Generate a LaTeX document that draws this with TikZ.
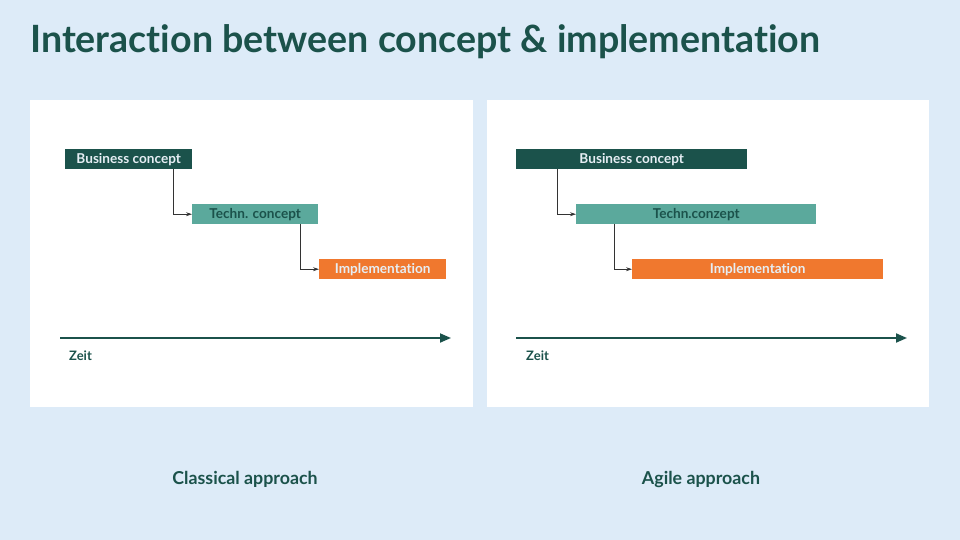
\documentclass[tikz,border=0pt]{standalone}
\usepackage{fontspec}
\setmainfont[Ligatures=NoCommon]{Lato}
\usetikzlibrary{arrows.meta}
\definecolor{bgblue}{HTML}{DDEBF8}
\definecolor{dkgreen}{HTML}{1B524B}
\definecolor{teal2}{HTML}{5BA99C}
\definecolor{orng}{HTML}{F0782E}
\definecolor{txtlight}{HTML}{E6EEF4}
\tikzset{
  panel/.style={fill=white, draw=none},
  bar/.style={anchor=north west, inner sep=0pt, minimum height=20pt, text height=10pt, text depth=1pt, font=\fontsize{13.6}{13.6}\selectfont\bfseries},
  bizbar/.style={bar, fill=dkgreen, text=txtlight},
  techbar/.style={bar, fill=teal2, text=dkgreen},
  implbar/.style={bar, fill=orng, text=txtlight},
  conn/.style={draw=black!80, line width=0.8pt, -{Stealth[length=6pt,width=4pt]}},
  axis/.style={draw=dkgreen, line width=1.8pt, -{Triangle[length=11pt,width=9pt]}},
  zeit/.style={anchor=west, inner sep=0pt, text=dkgreen, font=\fontsize{13}{13}\selectfont\bfseries},
  caption/.style={text=dkgreen, font=\fontsize{17.8}{18}\selectfont\bfseries},
}
\begin{document}
\begin{tikzpicture}[x=1pt,y=-1pt]
\fill[bgblue] (0,0) rectangle (960,540);
\useasboundingbox (0,0) rectangle (960,540);
\node[anchor=west, inner sep=0pt, text=dkgreen, font=\fontsize{37.6}{37.6}\selectfont\bfseries] (title) at (30,42) {Interaction between concept \& implementation};
% panels
\fill[panel] (30,100) rectangle (473,407);
\fill[panel] (487,100) rectangle (929,407);
% left bars
\node[bizbar, minimum width=127pt] (lb) at (65,149) {Business concept};
\node[techbar, minimum width=126pt] (lt) at (192,204) {Techn. concept};
\node[implbar, minimum width=127pt] (li) at (319,259) {Implementation};
\draw[conn] ([xshift=108pt]lb.south west) |- (lt.west);
\draw[conn] ([xshift=108pt]lt.south west) |- (li.west);
% right bars
\node[bizbar, minimum width=231pt] (rb) at (516,149) {Business concept};
\node[techbar, minimum width=240pt] (rt) at (576,204) {Techn.conzept};
\node[implbar, minimum width=251pt] (ri) at (632,259) {Implementation};
\draw[conn] ([xshift=41pt]rb.south west) |- (rt.west);
\draw[conn] ([xshift=38pt]rt.south west) |- (ri.west);
% axes
\coordinate (la0) at (60,338);
\coordinate (la1) at (451,338);
\draw[axis] (la0) -- (la1);
\node[zeit] (lz) at (69,356) {Zeit};
\coordinate (ra0) at (516,338);
\coordinate (ra1) at (907,338);
\draw[axis] (ra0) -- (ra1);
\node[zeit] (rz) at (526,356) {Zeit};
% captions
\node[caption] (lc) at (245,479.5) {Classical approach};
\node[caption] (rc) at (701,479.5) {Agile approach};
\end{tikzpicture}
\end{document}
